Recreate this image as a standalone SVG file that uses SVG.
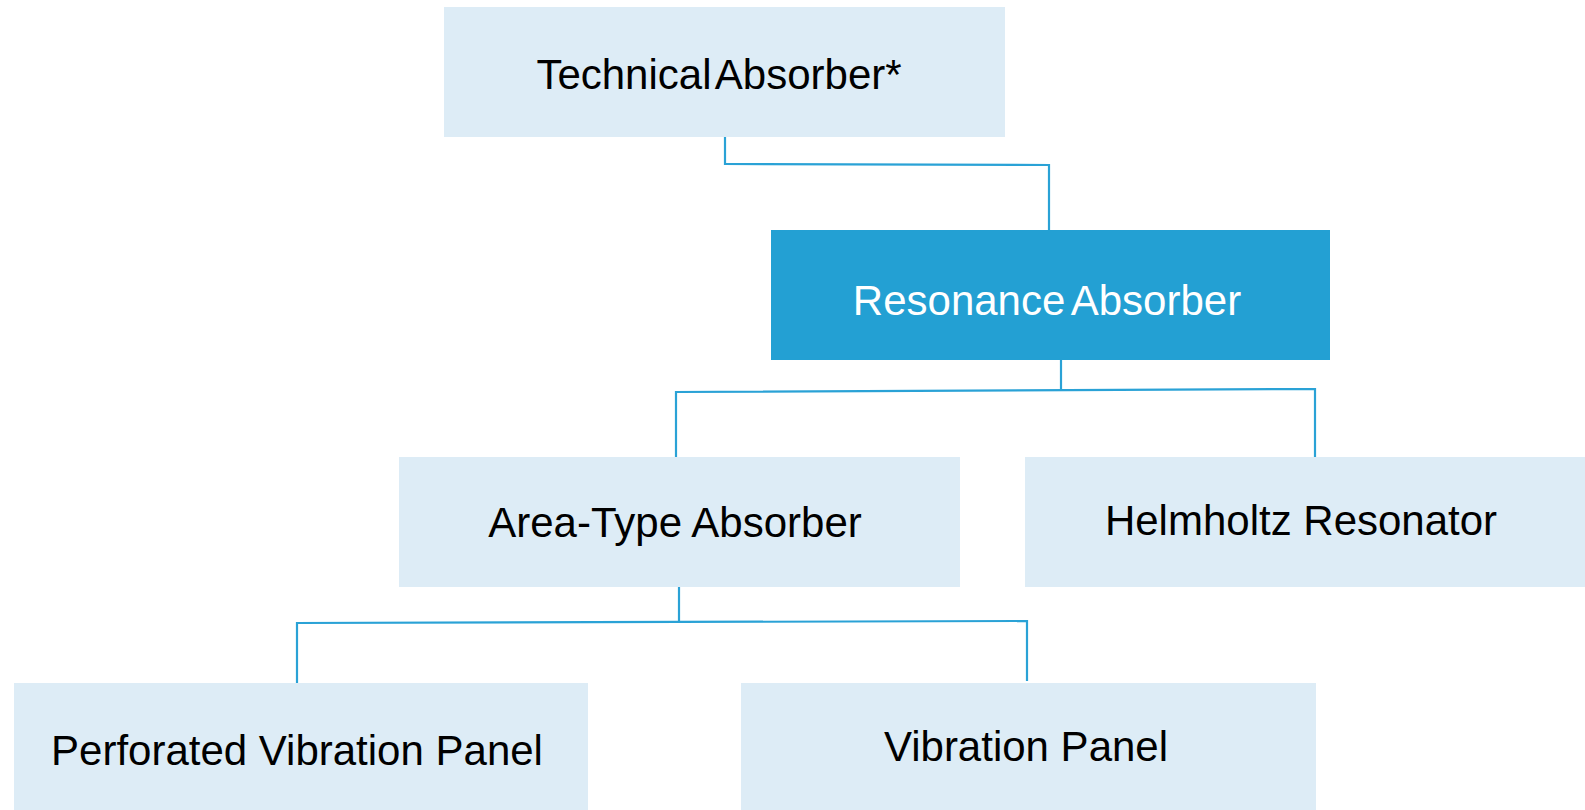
<svg xmlns="http://www.w3.org/2000/svg" width="1585" height="810" viewBox="0 0 1585 810">
<style>
.light{fill:#DDECF6}
.dark{fill:#23A0D3}
.t{font-family:"Liberation Sans",Arial,sans-serif;font-size:42px;text-anchor:middle;fill:#000}
.tw{fill:#fff}
.c{fill:none;stroke:#2AA2D6;stroke-width:2.2}
</style>
<rect width="1585" height="810" fill="#fff"/>
<g id="connectors">
<polyline class="c" points="725,137 725,164 1049,165 1049,230"/>
<polyline class="c" points="1061,360 1061,389"/>
<polyline class="c" points="676,457 676,392 1315,389 1315,457"/>
<polyline class="c" points="679,587 679,622"/>
<polyline class="c" points="297,685 297,623 1027,621 1027,681"/>
</g>
<g id="technical">
<rect class="light" x="444" y="7" width="561" height="130"/>
<text class="t" x="719" y="89" word-spacing="-6">Technical Absorber*</text>
</g>
<g id="resonance">
<rect class="dark" x="771" y="230" width="559" height="130"/>
<text class="t tw" x="1047" y="315" word-spacing="-4">Resonance Absorber</text>
</g>
<g id="area">
<rect class="light" x="399" y="457" width="561" height="130"/>
<text class="t" x="675" y="537">Area-Type Absorber</text>
</g>
<g id="helmholtz">
<rect class="light" x="1025" y="457" width="560" height="130"/>
<text class="t" x="1301" y="535">Helmholtz Resonator</text>
</g>
<g id="perforated">
<rect class="light" x="14" y="683" width="574" height="127"/>
<text class="t" x="297" y="765">Perforated Vibration Panel</text>
</g>
<g id="vibration">
<rect class="light" x="741" y="683" width="575" height="127"/>
<text class="t" x="1026" y="761">Vibration Panel</text>
</g>
</svg>
